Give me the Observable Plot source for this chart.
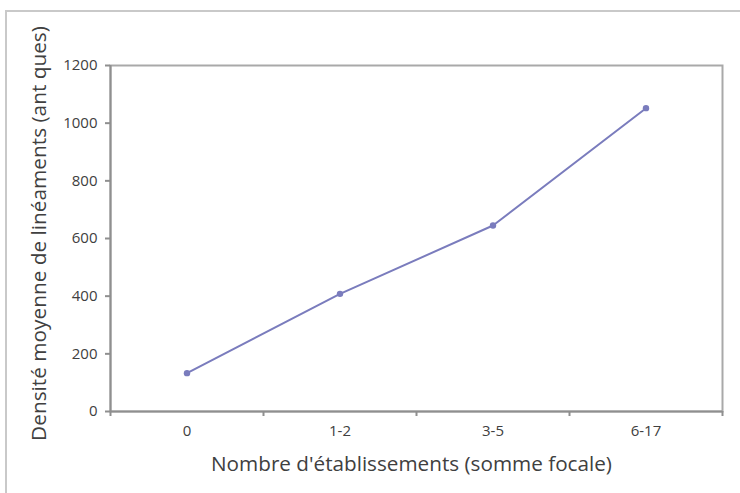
<!DOCTYPE html>
<html>
<head>
<meta charset="utf-8">
<script src="https://cdn.jsdelivr.net/npm/d3@7"></script>
<script src="https://cdn.jsdelivr.net/npm/@observablehq/plot@0.6"></script>
<style>
  html, body { margin: 0; padding: 0; background: #fff; overflow: hidden; width: 740px; height: 493px; }
  #frame { position: absolute; left: 5px; top: 10px; width: 760px; height: 520px; border: 2px solid #c9c9c9; box-sizing: border-box; pointer-events: none; }
  #chart { position: absolute; left: 0; top: 0; }
</style>
</head>
<body>
<div id="chart"></div>
<div id="frame"></div>
<script>
const categories = ["0", "1-2", "3-5", "6-17"];
const values = [133, 408, 645, 1052];
const yTicks = [0, 200, 400, 600, 800, 1000, 1200];
const xTitle = "Nombre d'établissements (somme focale)";
const yTitle = "Densité moyenne de linéaments (ant ques)";

const data = categories.map((c, i) => ({pos: i + 0.5, cat: c, value: values[i]}));
const boundaries = d3.range(categories.length + 1);

const textColor = "#404040";
const axisColor = "#8f8f8f";
const lineColor = "#7a7cbd";

const chart = Plot.plot({
  width: 740,
  height: 493,
  marginLeft: 110,
  marginRight: 18,
  marginTop: 65,
  marginBottom: 82,
  style: {fontFamily: "'Open Sans', sans-serif", fontSize: "15px", color: textColor, background: "transparent"},
  x: {type: "linear", domain: [0, categories.length]},
  y: {domain: [0, 1200]},
  marks: [
    Plot.frame({stroke: "#a9a9a9", strokeWidth: 2}),
    Plot.ruleY([0], {stroke: axisColor, strokeWidth: 2}),
    Plot.ruleX([0], {stroke: axisColor, strokeWidth: 2}),
    Plot.axisY({ticks: yTicks, tickSize: 5, tickPadding: 8, tickFormat: d => String(d), stroke: axisColor, strokeWidth: 2, label: null, fontSize: 15, fill: textColor}),
    Plot.axisX({ticks: boundaries, tickSize: 5, tickFormat: () => "", stroke: axisColor, strokeWidth: 2, label: null}),
    Plot.axisX({ticks: data.map(d => d.pos), tickSize: 0, tickPadding: 14, tickFormat: (v) => categories[Math.floor(v)], label: null, fontSize: 15, fill: textColor}),
    Plot.line(data, {x: "pos", y: "value", stroke: lineColor, strokeWidth: 2}),
    Plot.dot(data, {x: "pos", y: "value", r: 3.2, fill: lineColor, stroke: "none"}),
    Plot.text([xTitle], {frameAnchor: "bottom", textAnchor: "middle", dy: 59, dx: -5, fontSize: 20.7, fill: textColor}),
    Plot.text([yTitle], {frameAnchor: "left", textAnchor: "middle", dx: -71, dy: -5, rotate: -90, fontSize: 20.8, fill: textColor})
  ]
});
document.getElementById("chart").appendChild(chart);
</script>
</body>
</html>
